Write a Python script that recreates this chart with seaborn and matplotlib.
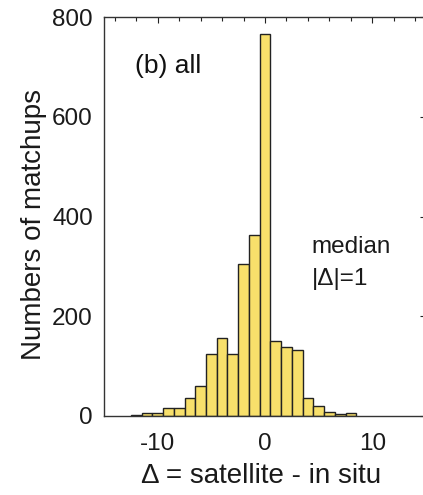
import numpy as np
import pandas as pd
import matplotlib
matplotlib.use("Agg")
import matplotlib.pyplot as plt
import seaborn as sns
from matplotlib.ticker import MultipleLocator

# Data (bin centers = integer differences)
delta_values = [-12, -11, -10, -9, -8, -7, -6, -5, -4, -3, -2, -1, 0, 1, 2, 3, 4, 5, 6, 7, 8]
counts = [2, 7, 7, 17, 17, 37, 61, 124, 156, 124, 304, 363, 766, 151, 139, 132, 37, 21, 9, 4, 6]
x_ticks = [-10, 0, 10]
y_ticks = [0, 200, 400, 600, 800]

sns.set_style("white")
plt.rcParams['font.family'] = ['Liberation Sans', 'DejaVu Sans']
plt.rcParams['axes.unicode_minus'] = False

df = pd.DataFrame({"delta": delta_values, "count": counts})

W, H = 423, 495
fig = plt.figure(figsize=(W / 100, H / 100), dpi=100)
left, right, top, bottom = 104, 426, 17, 416
ax = fig.add_axes([left / W, 1 - bottom / H, (right - left) / W, (bottom - top) / H])

sns.histplot(data=df, x="delta", weights="count", binwidth=1, binrange=(-12.5, 8.5), ax=ax,
             color="#F8E06B", edgecolor="#222222", linewidth=1.0, alpha=1.0)

ax.set_xlim(-15, 15)
ax.set_ylim(0, 800)
ax.set_xticks(x_ticks)
ax.set_yticks(y_ticks)
ax.xaxis.set_minor_locator(MultipleLocator(2))
ax.tick_params(axis="both", which="both", direction="in", top=True, right=True,
               labelsize=17.5, colors="#222222", labelcolor="#1a1a1a")
ax.tick_params(which="major", length=4, width=0.8)
ax.tick_params(which="minor", length=3, width=0.8)
ax.tick_params(axis="x", pad=12)
ax.tick_params(axis="y", pad=8)
for s in ax.spines.values():
    s.set_color("#333333")
    s.set_linewidth(1.0)

ax.set_xlabel("Δ = satellite - in situ", fontsize=20, color="#1a1a1a")
ax.set_ylabel("Numbers of matchups", fontsize=20, color="#1a1a1a")
ax.xaxis.set_label_coords(0.4876, -0.118)
ax.yaxis.set_label_coords(-0.177, 0.48)

ax.text(-12.1, 701, "(b) all", fontsize=19, color="#111111", va="center", ha="left")
ax.text(4.37, 327, "median", fontsize=17.5, color="#1a1a1a", va="baseline", ha="left")
ax.text(4.37, 263, "|Δ|=1", fontsize=17.5, color="#1a1a1a", va="baseline", ha="left")

fig.savefig("out.png", dpi=100)
